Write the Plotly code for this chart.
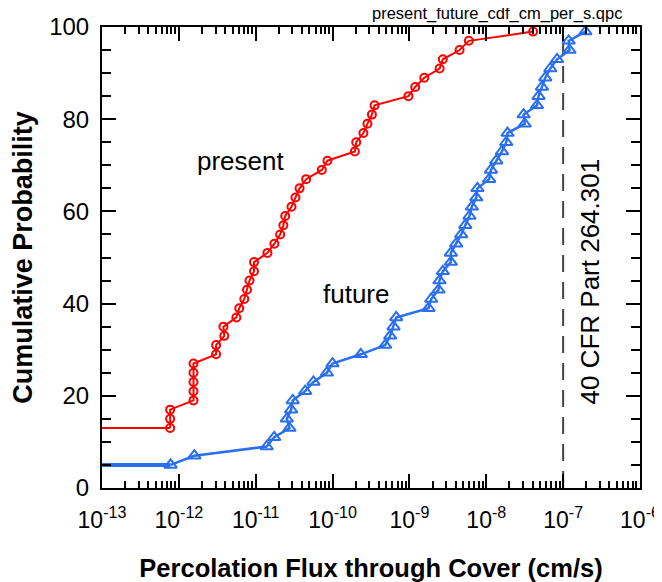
import plotly.graph_objects as go

# ---- data ----
present_y = [13, 15, 17, 19, 21, 23, 25, 27, 29, 31, 33, 35, 37, 39, 41, 43, 45, 47, 49, 51,
             53, 55, 57, 59, 61, 63, 65, 67, 69, 71, 73, 75, 77, 79, 81, 83, 85, 87, 89, 91,
             93, 95, 97, 99]
present_x = [7.7e-13, 7.7e-13, 7.7e-13, 1.55e-12, 1.55e-12, 1.55e-12, 1.55e-12, 1.55e-12,
             3.05e-12, 3.05e-12, 3.9e-12, 3.8e-12, 5.6e-12, 6.1e-12, 7.1e-12, 7.7e-12,
             8.3e-12, 9.5e-12, 9.5e-12, 1.42e-11, 1.75e-11, 2.08e-11, 2.29e-11, 2.42e-11,
             2.92e-11, 3.29e-11, 3.72e-11, 4.53e-11, 7.24e-11, 8.57e-11, 1.95e-10, 2.03e-10,
             2.52e-10, 2.84e-10, 3.25e-10, 3.52e-10, 9.7e-10, 1.19e-9, 1.56e-9, 2.47e-9,
             2.72e-9, 4.49e-9, 5.93e-9, 4.06e-8]

future_y = [5, 7, 9, 11, 13, 15, 17, 19, 21, 23, 25, 27, 29, 31, 33, 35, 37, 39, 41, 43, 45,
            47, 49, 51, 53, 55, 57, 59, 61, 63, 65, 67, 69, 71, 73, 75, 77, 79, 81, 83, 85,
            87, 89, 91, 93, 95, 97, 99]
future_x = [7.8e-13, 1.59e-12, 1.39e-11, 1.74e-11, 2.75e-11, 2.54e-11, 2.89e-11, 3.03e-11,
            4.40e-11, 5.64e-11, 8.43e-11, 9.98e-11, 2.33e-10, 4.84e-10, 5.62e-10, 6.21e-10,
            6.73e-10, 1.77e-9, 1.92e-9, 2.39e-9, 2.46e-9, 2.72e-9, 3.46e-9, 3.46e-9, 4.06e-9,
            4.72e-9, 5.33e-9, 6.04e-9, 6.49e-9, 7.41e-9, 7.67e-9, 1.09e-8, 1.15e-8, 1.35e-8,
            1.60e-8, 1.82e-8, 1.89e-8, 3.16e-8, 3.06e-8, 4.57e-8, 4.79e-8, 5.30e-8, 5.86e-8,
            6.81e-8, 8.34e-8, 1.21e-7, 1.18e-7, 1.95e-7]

x_min, x_max = 1e-13, 1e-6
reg_limit = 1e-7
x_exps = list(range(-13, -5))
x_ticktext = [f"10<sup>-{abs(e)}</sup>" for e in x_exps]
y_ticks = [0, 20, 40, 60, 80, 100]

RED = "#ff0000"
BLUE = "#2a6ff0"
FONT = "Liberation Sans, Arial, sans-serif"

fig = go.Figure()

# regulatory limit line
fig.add_trace(go.Scatter(x=[reg_limit, reg_limit], y=[0, 100], mode="lines",
                         line=dict(color="#444444", width=2, dash="17px,10px"),
                         hoverinfo="skip", showlegend=False))

# lead-in segments from left edge
fig.add_trace(go.Scatter(x=[x_min, present_x[0]], y=[present_y[0], present_y[0]], mode="lines",
                         line=dict(color=RED, width=2), showlegend=False))
fig.add_trace(go.Scatter(x=[x_min, future_x[0]], y=[future_y[0], future_y[0]], mode="lines",
                         line=dict(color=BLUE, width=4), showlegend=False))

fig.add_trace(go.Scatter(x=present_x, y=present_y, mode="lines+markers", name="present",
                         line=dict(color=RED, width=2),
                         marker=dict(symbol="circle-open", size=8, color=RED,
                                     line=dict(width=2, color=RED)),
                         showlegend=False))
fig.add_trace(go.Scatter(x=future_x, y=future_y, mode="lines+markers", name="future",
                         line=dict(color=BLUE, width=2.5),
                         marker=dict(symbol="triangle-up-open", size=11, color=BLUE,
                                     line=dict(width=2, color=BLUE)),
                         showlegend=False))

minor_x = [m * 10.0 ** e for e in x_exps[:-1] for m in range(2, 10)]

fig.update_xaxes(type="log", range=[-13, -6], showgrid=False, zeroline=False, automargin=False,
                 showline=True, linewidth=2, linecolor="black", mirror="allticks",
                 ticks="inside", ticklen=14, tickwidth=2, tickcolor="black",
                 tickmode="array", tickvals=[10.0 ** e for e in x_exps], ticktext=x_ticktext,
                 tickfont=dict(family=FONT, size=23, color="black"), ticklabelstandoff=10,
                 minor=dict(ticks="inside", ticklen=7, tickwidth=1.5, tickcolor="black",
                            tickmode="array", tickvals=minor_x, showgrid=False),
                 title=dict(text="<b>Percolation Flux through Cover (cm/s)</b>",
                            font=dict(family=FONT, size=25.5, color="black"), standoff=30))
fig.update_yaxes(range=[0, 100], showgrid=False, zeroline=False, automargin=False,
                 showline=True, linewidth=2, linecolor="black", mirror="allticks",
                 ticks="inside", ticklen=14, tickwidth=2, tickcolor="black",
                 tickmode="array", tickvals=y_ticks,
                 tickfont=dict(family=FONT, size=24, color="black"), ticklabelstandoff=6,
                 minor=dict(ticks="inside", ticklen=9, tickwidth=1.5, tickcolor="black",
                            dtick=5, showgrid=False),
                 title=dict(text="<b>Cumulative Probability</b>",
                            font=dict(family=FONT, size=27, color="black"), standoff=10))

fig.add_annotation(x=-11.2, y=71, xref="x", yref="y", text="present", showarrow=False,
                   font=dict(family=FONT, size=26, color="black"))
fig.add_annotation(x=-9.69, y=42, xref="x", yref="y", text="future", showarrow=False,
                   font=dict(family=FONT, size=26, color="black"))
fig.add_annotation(x=-6.65, y=44.8, xref="x", yref="y", text="40 CFR Part 264.301",
                   showarrow=False, textangle=-90,
                   font=dict(family=FONT, size=26, color="black"))
fig.add_annotation(x=1.0, y=1.0, xref="paper", yref="paper", xanchor="right", yanchor="bottom",
                   xshift=-16, yshift=2, text="present_future_cdf_cm_per_s.qpc",
                   showarrow=False, font=dict(family=FONT, size=16.5, color="black"))

# page body adds an 8px offset; margins compensate so the plot box lands at 102..640 x 27..488
fig.update_layout(width=654, height=574, margin=dict(l=94, r=22, t=19, b=94),
                  paper_bgcolor="white", plot_bgcolor="white", showlegend=False)

fig.write_html("out.html")
